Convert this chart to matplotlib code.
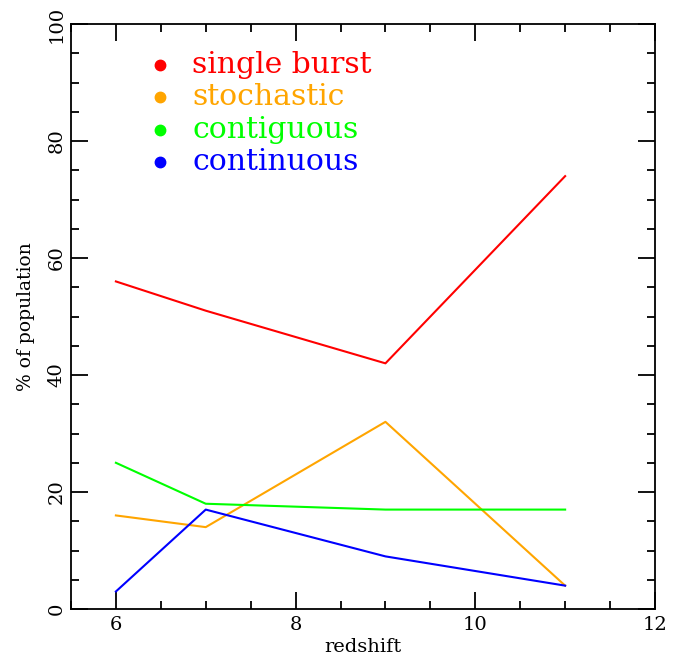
import matplotlib
matplotlib.use("Agg")
import matplotlib.pyplot as plt
from matplotlib.ticker import MultipleLocator

# redshift bins and population fractions (%)
redshift = [6, 7, 9, 11]
single_burst = [56, 51, 42, 74]
stochastic = [16, 14, 32, 4]
contiguous = [25, 18, 17, 17]
continuous = [3, 17, 9, 4]

names = ["single burst", "stochastic", "contiguous", "continuous"]
colors = ["#ff0000", "#ffa500", "#00ff00", "#0000ff"]

plt.rcParams['font.family'] = ['DejaVu Serif']

fig = plt.figure(figsize=(6.85, 6.62), dpi=100)
ax = fig.add_axes([0.1036, 0.080, 0.8526, 0.8837])

for ys, c in zip([single_burst, stochastic, contiguous, continuous], colors):
    ax.plot(redshift, ys, color=c, lw=1.5)

ax.set_xlim(5.5, 12)
ax.set_ylim(0, 100)
ax.xaxis.set_major_locator(MultipleLocator(2))
ax.xaxis.set_minor_locator(MultipleLocator(0.5))
ax.yaxis.set_major_locator(MultipleLocator(20))
ax.yaxis.set_minor_locator(MultipleLocator(5))
ax.tick_params(which='both', direction='in', top=True, right=True, width=1.3, color='black')
ax.tick_params(which='major', length=12, labelsize=14)
ax.tick_params(axis='x', which='major', pad=5)
ax.tick_params(axis='y', which='major', pad=4)
ax.tick_params(which='minor', length=6)
for lab in ax.get_yticklabels():
    lab.set_rotation(90)
    lab.set_va('center')
for s in ax.spines.values():
    s.set_linewidth(1.3)

ax.set_xlabel("redshift", fontsize=14, labelpad=3)
ax.set_ylabel("% of population", fontsize=13.5, labelpad=9)

# legend drawn as dots + coloured text
for i, (n, c) in enumerate(zip(names, colors)):
    ytxt = 93 - i * 5.55
    ax.plot([6.49], [ytxt], 'o', color=c, ms=7.5, clip_on=False)
    ax.text(6.85, ytxt, n, color=c, fontsize=21.5, va='center', ha='left')

fig.savefig("out.png", dpi=100)
